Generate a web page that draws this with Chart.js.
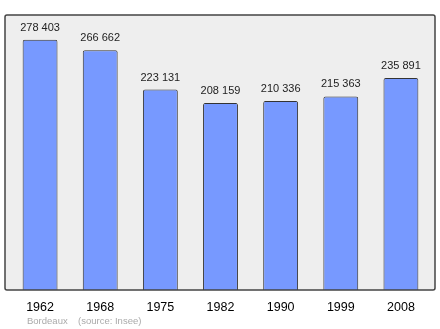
<!DOCTYPE html>
<html><head><meta charset="utf-8">
<script src="https://cdn.jsdelivr.net/npm/chart.js@4"></script>
<style>html,body{margin:0;padding:0;background:#fff}#w{width:440px;height:329px}</style>
</head><body><div id="w"><canvas id="c" width="440" height="329"></canvas></div>
<script>
const years = ["1962","1968","1975","1982","1990","1999","2008"];
const population = [278403,266662,223131,208159,210336,215363,235891];
const footerPlace = "Bordeaux";
const footerSource = "(source: Insee)";
const yMax = 306000;

function fmt(v){return String(v).replace(/\B(?=(\d{3})+(?!\d))/g," ");}

const framePlugin = {
  id:'frame',
  beforeDatasetsDraw(chart){
    const {ctx, chartArea:a} = chart;
    ctx.save();
    ctx.fillStyle='#eeeeee';
    ctx.fillRect(a.left-5, a.top, a.right-a.left+9, a.bottom-a.top);
    ctx.restore();
  },
  afterDatasetsDraw(chart){
    const {ctx, chartArea:a} = chart;
    ctx.save();
    ctx.strokeStyle='#444';
    ctx.lineWidth=1.5;
    ctx.beginPath();
    if(ctx.roundRect){ctx.roundRect(a.left-5, a.top, a.right-a.left+9, a.bottom-a.top, 2);}else{ctx.rect(a.left-5, a.top, a.right-a.left+9, a.bottom-a.top);}
    ctx.stroke();
    const meta = chart.getDatasetMeta(0);
    ctx.fillStyle='#222';
    ctx.font='11px "Liberation Sans", Arial, sans-serif';
    ctx.textAlign='center';
    ctx.textBaseline='middle';
    meta.data.forEach((bar,i)=>{
      ctx.fillText(fmt(chart.data.datasets[0].data[i]), bar.x, bar.y-12);
    });
    ctx.fillStyle='#aaaaaa';
    ctx.font='9.5px "Liberation Sans", Arial, sans-serif';
    ctx.textAlign='left';
    ctx.fillText(footerPlace, 27, 321);
    ctx.fillText(footerSource, 78, 321);
    ctx.restore();
  }
};

new Chart(document.getElementById('c'), {
  type:'bar',
  data:{labels:years, datasets:[{data:population, backgroundColor:'#7799ff', borderColor:'#333', borderWidth:1, borderRadius:{topLeft:2,topRight:2}, borderSkipped:'bottom', categoryPercentage:1, barPercentage:0.58}]},
  options:{
    responsive:false, animation:false, devicePixelRatio:1,
    layout:{padding:{left:10,right:9,top:15,bottom:0}},
    plugins:{legend:{display:false}, tooltip:{enabled:false}},
    scales:{
      x:{grid:{display:false, drawTicks:false}, border:{display:false},
         ticks:{color:'#000', font:{family:'"Liberation Sans", Arial, sans-serif', size:12.5}, padding:10},
         afterFit(s){s.height=39;}},
      y:{display:false, min:0, max:yMax}
    }
  },
  plugins:[framePlugin]
});
</script></body></html>
